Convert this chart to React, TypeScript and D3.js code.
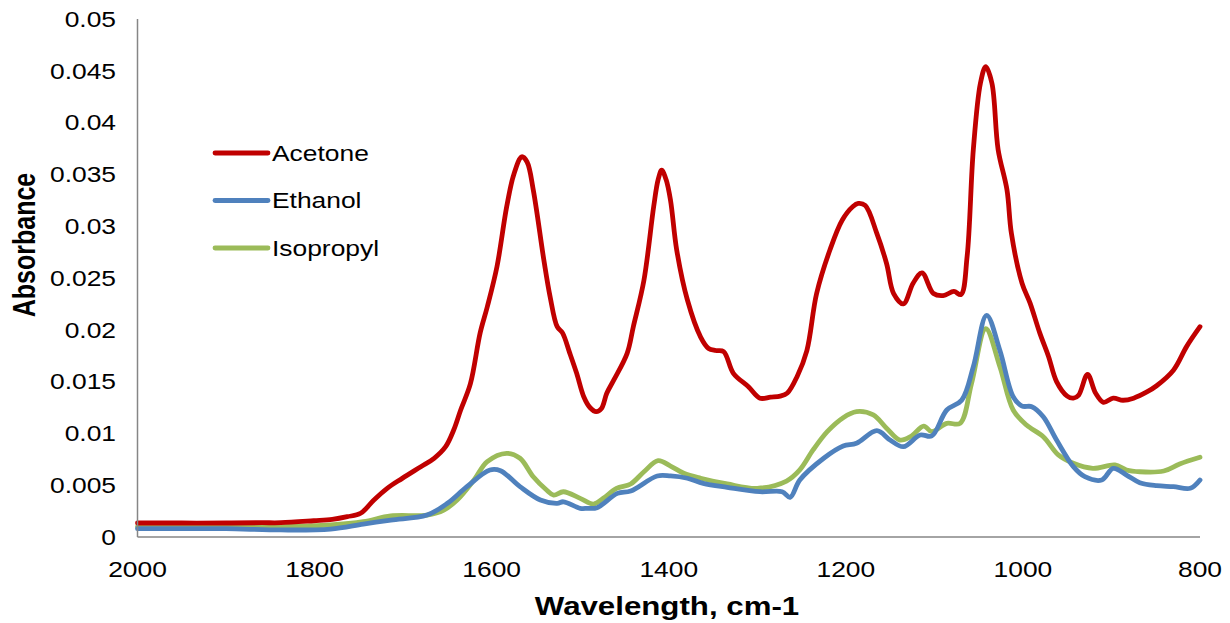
import React from "react";
import * as d3 from "d3";

const xTicks = [2000, 1800, 1600, 1400, 1200, 1000, 800];
const yTicks = [0, 0.005, 0.01, 0.015, 0.02, 0.025, 0.03, 0.035, 0.04, 0.045, 0.05];
const yTickLabels = ["0", "0.005", "0.01", "0.015", "0.02", "0.025", "0.03", "0.035", "0.04", "0.045", "0.05"];
const seriesNames = ["Acetone", "Ethanol", "Isopropyl"];

// [wavenumber cm-1, absorbance]
const acetone: [number, number][] = [
  [2000, 0.00135], [1950, 0.00135], [1900, 0.00135], [1860, 0.00138], [1838, 0.00138],
  [1801, 0.00157], [1780, 0.0017], [1763, 0.00196], [1748, 0.00229], [1733, 0.00357],
  [1718, 0.0047], [1701, 0.00566], [1680, 0.00679], [1665, 0.0076], [1652, 0.00872],
  [1643, 0.0103], [1635, 0.01226], [1624, 0.0148], [1613, 0.0197], [1605, 0.0222],
  [1594, 0.0261], [1583, 0.0319], [1575, 0.035], [1566, 0.0367], [1560, 0.0362],
  [1553, 0.0335], [1541, 0.0267], [1534, 0.0232], [1526, 0.0203], [1520, 0.0197],
  [1512, 0.0178], [1504, 0.0158], [1496, 0.01354], [1489, 0.0125], [1482, 0.0121],
  [1476, 0.0124], [1470, 0.01387], [1462, 0.01516], [1447, 0.01773], [1440, 0.0203],
  [1428, 0.0248], [1417, 0.0319], [1412, 0.0345], [1408, 0.0354], [1403, 0.0345],
  [1398, 0.0325], [1391, 0.0277], [1379, 0.0229], [1364, 0.0193], [1355, 0.0182],
  [1347, 0.018], [1338, 0.0179], [1327, 0.0158], [1310, 0.0145], [1297, 0.0134],
  [1285, 0.0135], [1274, 0.0136], [1266, 0.0139], [1255, 0.0155], [1244, 0.018],
  [1233, 0.0235], [1218, 0.0277], [1204, 0.0306], [1192, 0.0319], [1186, 0.0322],
  [1178, 0.032], [1165, 0.0293], [1154, 0.0264], [1146, 0.0235], [1135, 0.0225],
  [1124, 0.0245], [1114, 0.0255], [1101, 0.0235], [1090, 0.0233], [1078, 0.0237],
  [1070, 0.0234], [1063, 0.0271], [1056, 0.0374], [1048, 0.0438], [1042, 0.0454],
  [1035, 0.0438], [1028, 0.0374], [1018, 0.0335], [1013, 0.0293], [1001, 0.0245],
  [992, 0.0226], [981, 0.0197], [971, 0.0174], [962, 0.015], [950, 0.0136],
  [943, 0.0134], [937, 0.0137], [927, 0.0157], [918, 0.0139], [909, 0.013],
  [898, 0.0134], [887, 0.0132], [875, 0.0134], [860, 0.014], [849, 0.0146],
  [830, 0.0161], [815, 0.0184], [800, 0.0203],
];

const ethanol: [number, number][] = [
  [2000, 0.0008], [1950, 0.0008], [1900, 0.0008], [1838, 0.00068], [1782, 0.00077],
  [1745, 0.00125], [1714, 0.00164], [1673, 0.00212], [1650, 0.00325], [1628, 0.00486],
  [1602, 0.00647], [1590, 0.0064], [1568, 0.00486], [1545, 0.00357], [1526, 0.00325],
  [1519, 0.0034], [1500, 0.00277], [1492, 0.00277], [1481, 0.00283], [1458, 0.00421],
  [1443, 0.00444], [1413, 0.00589], [1398, 0.00589], [1379, 0.00567], [1361, 0.00518],
  [1334, 0.0048], [1297, 0.00437], [1272, 0.00437], [1263, 0.00383], [1252, 0.0055],
  [1225, 0.0076], [1203, 0.00878], [1188, 0.00904], [1165, 0.01026], [1150, 0.00936],
  [1135, 0.00872], [1116, 0.00985], [1103, 0.00975], [1086, 0.01226], [1069, 0.01322],
  [1056, 0.01644], [1041, 0.0214], [1026, 0.018], [1011, 0.01354], [1001, 0.01264],
  [990, 0.01258], [977, 0.01161], [962, 0.00936], [943, 0.00679], [930, 0.00582],
  [911, 0.0055], [898, 0.00663], [883, 0.00598], [868, 0.00524], [849, 0.00495],
  [830, 0.00486], [811, 0.0047], [800, 0.0055],
];

const isopropyl: [number, number][] = [
  [2000, 0.001], [1900, 0.001], [1838, 0.001], [1782, 0.00116], [1745, 0.00148],
  [1714, 0.00203], [1673, 0.00212], [1654, 0.0026], [1639, 0.00357], [1620, 0.0055],
  [1605, 0.00727], [1583, 0.00808], [1568, 0.0076], [1553, 0.00582], [1538, 0.00454],
  [1530, 0.00405], [1519, 0.00437], [1500, 0.00373], [1485, 0.00318], [1474, 0.00373],
  [1459, 0.0047], [1443, 0.00512], [1428, 0.0063], [1412, 0.00737], [1398, 0.00685],
  [1383, 0.00615], [1364, 0.00567], [1334, 0.00512], [1300, 0.0047], [1267, 0.0054],
  [1252, 0.00647], [1237, 0.0084], [1221, 0.01017], [1203, 0.01152], [1188, 0.0121],
  [1169, 0.01178], [1154, 0.0105], [1139, 0.00936], [1127, 0.00968], [1112, 0.01071],
  [1103, 0.01017], [1086, 0.01097], [1071, 0.01097], [1058, 0.01484], [1042, 0.0201],
  [1026, 0.01644], [1011, 0.01226], [996, 0.01081], [977, 0.00968], [960, 0.00792],
  [943, 0.00711], [921, 0.00663], [896, 0.00695], [883, 0.00647], [868, 0.0063],
  [841, 0.00637], [823, 0.00705], [800, 0.0077],
];

const seriesData = [acetone, ethanol, isopropyl];
const seriesColors = ["#C00000", "#4F81BD", "#9BBB59"];

const W = 1230;
const H = 623;
const left = 137.5;
const right = 1200;
const top = 19;
const bottom = 537;
const FONT = "'Liberation Sans', Arial, sans-serif";
const SX = 1.2; // horizontal stretch of the original picture's text

export default function App() {
  const x = d3.scaleLinear().domain([2000, 800]).range([left, right]);
  const y = d3.scaleLinear().domain([0, 0.05]).range([bottom, top]);
  const line = d3
    .line<[number, number]>()
    .x((d) => x(d[0]))
    .y((d) => y(d[1]))
    .curve(d3.curveCatmullRom.alpha(0.5));

  return (
    <svg
      width={W}
      height={H}
      style={{ position: "absolute", left: 0, top: 0, background: "#fff" }}
      fontFamily={FONT}
    >
      <rect width={W} height={H} fill="#fff" />
      {seriesData
        .map((d, i) => ({ d, i }))
        .reverse()
        .map(({ d, i }) => (
          <path
            key={seriesNames[i]}
            d={line(d) || ""}
            fill="none"
            stroke={seriesColors[i]}
            strokeWidth={4.8}
            strokeLinejoin="round"
            strokeLinecap="round"
          />
        ))}
      <line x1={left} x2={left} y1={top} y2={bottom} stroke="#868686" strokeWidth={1.5} />
      <line x1={left} x2={right} y1={bottom} y2={bottom} stroke="#868686" strokeWidth={1.5} />
      {yTicks.map((t, i) => (
        <g key={"y" + i} transform={`translate(116, ${y(t)}) scale(${SX}, 1)`}>
          <text dy="0.35em" textAnchor="end" fontSize={22} fill="#000">
            {yTickLabels[i]}
          </text>
        </g>
      ))}
      {xTicks.map((t) => (
        <g key={"x" + t} transform={`translate(${x(t)}, 569) scale(${SX}, 1)`}>
          <text dy="0.35em" textAnchor="middle" fontSize={22} fill="#000">
            {t}
          </text>
        </g>
      ))}
      <g transform={`translate(667, 606) scale(${SX + 0.05}, 1)`}>
        <text dy="0.35em" textAnchor="middle" fontSize={25} fontWeight="bold">
          Wavelength, cm-1
        </text>
      </g>
      <g transform={`translate(24, 245) scale(${SX + 0.05}, 1) rotate(-90)`}>
        <text dy="0.35em" textAnchor="middle" fontSize={25} fontWeight="bold">
          Absorbance
        </text>
      </g>
      {seriesNames.map((n, i) => (
        <g key={n} transform={`translate(0, ${153 + i * 47.5})`}>
          <line x1={215} x2={268} y1={0} y2={0} stroke={seriesColors[i]} strokeWidth={4.8} strokeLinecap="round" />
          <g transform={`translate(272, 0) scale(${SX}, 1)`}>
            <text dy="0.35em" fontSize={22}>
              {n}
            </text>
          </g>
        </g>
      ))}
    </svg>
  );
}
